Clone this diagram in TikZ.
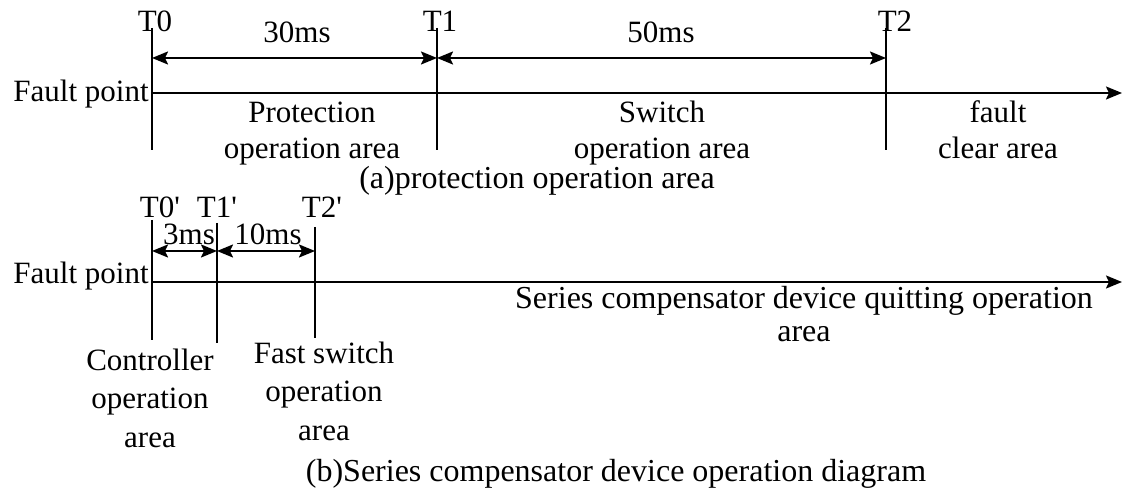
\documentclass[tikz,border=0pt]{standalone}
\usepackage{fontspec}
\setmainfont{Liberation Serif}
\usetikzlibrary{arrows.meta}
\newcommand{\pr}{\textquotesingle}
\begin{document}
\begin{tikzpicture}[x=0.5pt,y=-0.5pt,
  every node/.style={font=\fontsize{15.5}{18}\selectfont, inner sep=0pt, align=center},
  big/.style={font=\fontsize{16}{16.5}\selectfont},
  tick/.style={line width=1pt},
  axis/.style={line width=1pt, -{Stealth[length=8pt,width=6.5pt,inset=1.5pt]}},
  span/.style={line width=1pt, {Stealth[length=8pt,width=6.5pt,inset=1.5pt]}-{Stealth[length=8pt,width=6.5pt,inset=1.5pt]}}]
\useasboundingbox (0,0) rectangle (1124,491);
% (a) protection
\coordinate (a0) at (152,93); \coordinate (aend) at (1122,93);
\coordinate (t0top) at (152,28); \coordinate (t0bot) at (152,150);
\coordinate (t1top) at (437,28); \coordinate (t1bot) at (437,150);
\coordinate (t2top) at (886,28); \coordinate (t2bot) at (886,150);
\coordinate (s0) at (152,58); \coordinate (s1) at (437,58); \coordinate (s2) at (886,58);
\node[anchor=base] (lt0) at (155,32) {T0};
\node[anchor=base] (lt1) at (440,32) {T1};
\node[anchor=base] (lt2) at (895,32) {T2};
\node[anchor=base] (d30) at (297,43) {30ms};
\node[anchor=base] (d50) at (661,43) {50ms};
\node[anchor=base east] (fa) at (149,102) {Fault point};
\node[anchor=base] (prot) at (312,159) {Protection\\operation area};
\node[anchor=base] (swit) at (662,159) {Switch\\operation area};
\node[anchor=base] (clear) at (998,159) {fault\\clear area};
\node[anchor=base, big] (capa) at (537,189) {(a)protection operation area};
\draw[axis] (a0) -- (aend);
\draw[tick] (t0top) -- (t0bot);
\draw[tick] (t1top) -- (t1bot);
\draw[tick] (t2top) -- (t2bot);
\draw[span] (s0) -- (s1);
\draw[span] (s1) -- (s2);
% (b) series compensator
\coordinate (b0) at (152,282); \coordinate (bend) at (1122,282);
\coordinate (u0top) at (152,220); \coordinate (u0bot) at (152,340);
\coordinate (u1top) at (217,223); \coordinate (u1bot) at (217,343);
\coordinate (u2top) at (315,227); \coordinate (u2bot) at (315,338);
\coordinate (r0) at (152,251); \coordinate (r1) at (217,251); \coordinate (r2) at (315,251);
\node[anchor=base] (lu0) at (160,218) {T0\pr};
\node[anchor=base] (lu1) at (217,218) {T1\pr};
\node[anchor=base] (lu2) at (322,218) {T2\pr};
\node[anchor=base] (d3) at (189,245) {3ms};
\node[anchor=base] (d10) at (268,245) {10ms};
\node[anchor=base east] (fb) at (149,284) {Fault point};
\node[anchor=base, font=\fontsize{15.5}{19.2}\selectfont] (ctrl) at (150,447) {Controller\\operation\\area};
\node[anchor=base, font=\fontsize{15.5}{19.2}\selectfont] (fast) at (324,440) {Fast switch\\operation\\area};
\node[anchor=base, big] (quit) at (804,342) {Series compensator device quitting operation\\area};
\node[anchor=base, big] (capb) at (616,481) {(b)Series compensator device operation diagram};
\draw[axis] (b0) -- (bend);
\draw[tick] (u0top) -- (u0bot);
\draw[tick] (u1top) -- (u1bot);
\draw[tick] (u2top) -- (u2bot);
\draw[span] (r0) -- (r1);
\draw[span] (r1) -- (r2);
\end{tikzpicture}
\end{document}
